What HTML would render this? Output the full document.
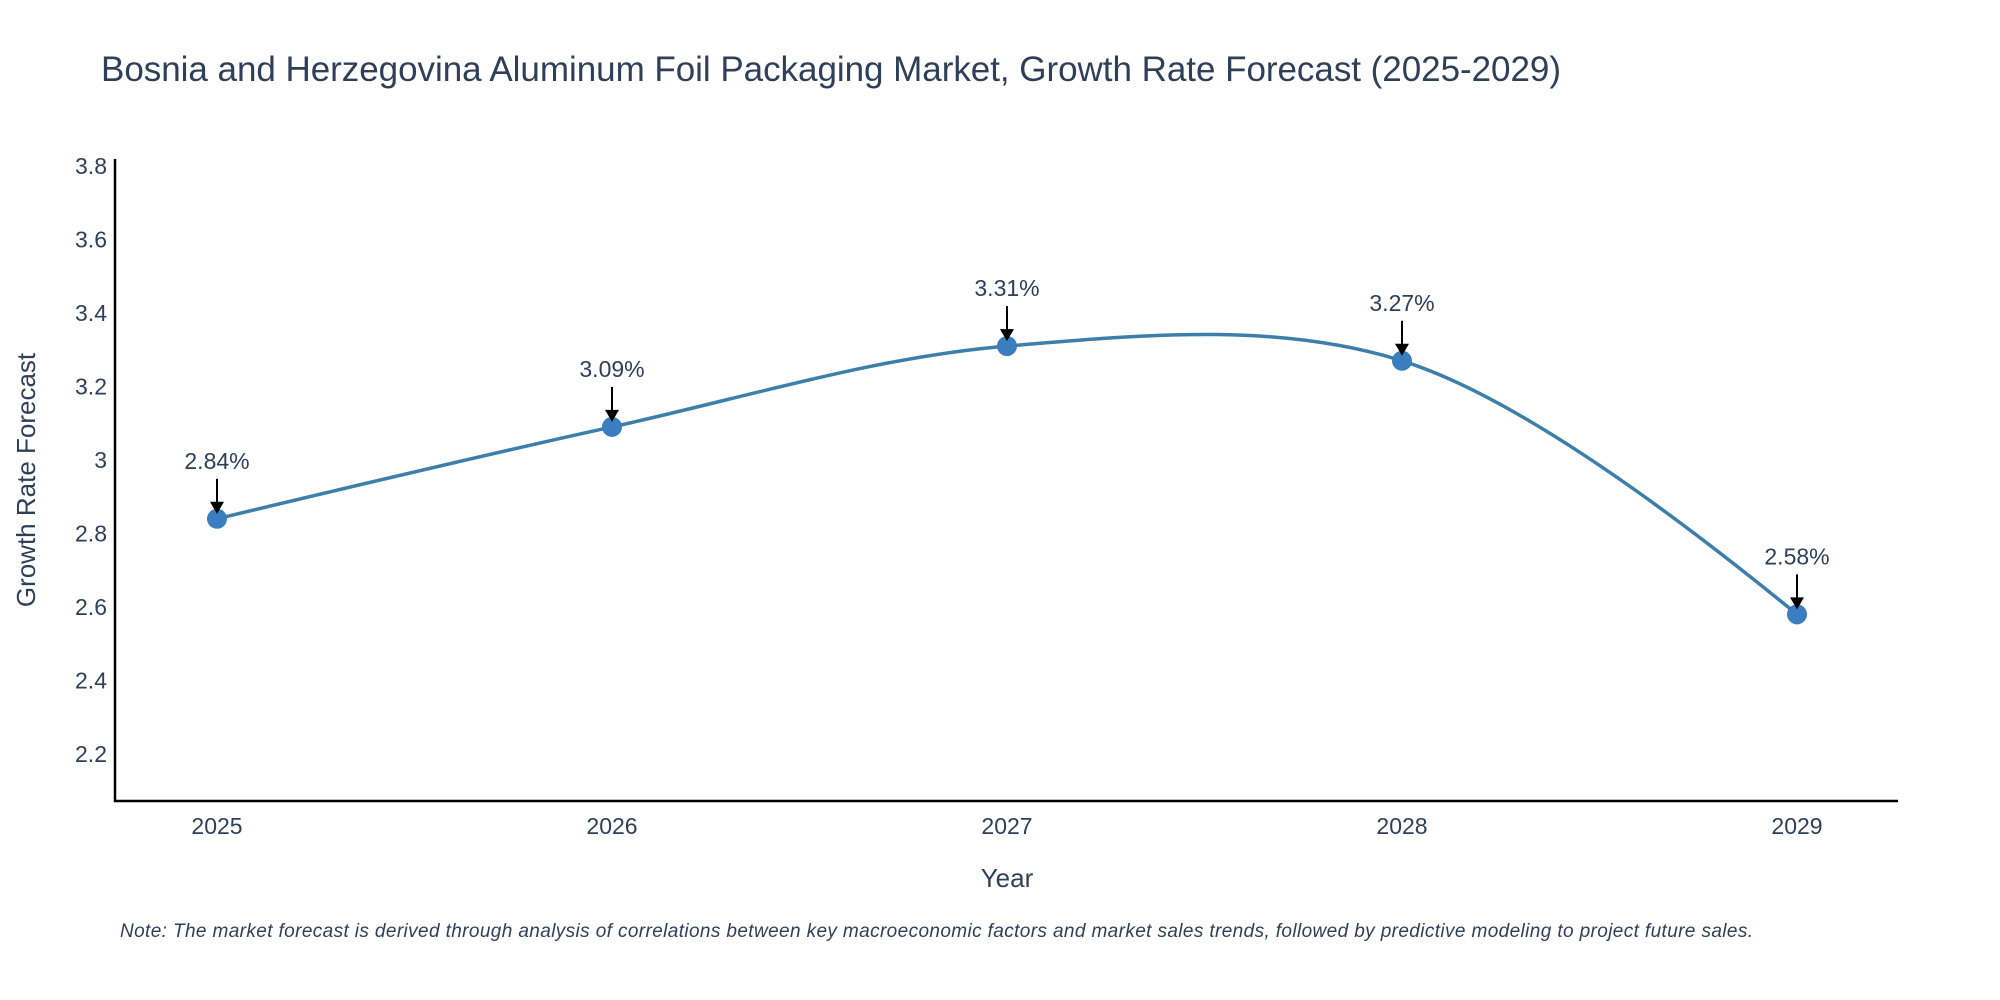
<!DOCTYPE html>
<html><head><meta charset="utf-8"><style>
html,body{margin:0;padding:0;background:#fff;width:2000px;height:1000px;overflow:hidden}
svg{font-family:"Liberation Sans",sans-serif}
</style></head><body>
<svg id="chart" width="2000" height="1000">
<text x="101" y="81" font-size="35" fill="#2f3f58" textLength="1460">Bosnia and Herzegovina Aluminum Foil Packaging Market, Growth Rate Forecast (2025-2029)</text>
<g id="yticks"></g>
<g id="xticks"></g>
<line x1="115" y1="159" x2="115" y2="802" stroke="#000" stroke-width="2.5"/>
<line x1="114" y1="801" x2="1898" y2="801" stroke="#000" stroke-width="2.5"/>
<text x="35" y="480" font-size="26" fill="#2f3f58" text-anchor="middle" transform="rotate(-90 35 480)">Growth Rate Forecast</text>
<text x="1007" y="887" font-size="26" fill="#2f3f58" text-anchor="middle">Year</text>
<path id="line" fill="none" stroke="#3d7eaa" stroke-width="3.5"/>
<g id="marks"></g>
<text x="120" y="937" font-size="19" font-style="italic" fill="#2f3f58" textLength="1633">Note: The market forecast is derived through analysis of correlations between key macroeconomic factors and market sales trends, followed by predictive modeling to project future sales.</text>
</svg>
<script>
const years = ["2025","2026","2027","2028","2029"];
const values = [2.84, 3.09, 3.31, 3.27, 2.58];
const yTicks = [2.2, 2.4, 2.6, 2.8, 3, 3.2, 3.4, 3.6, 3.8];
const NS = "http://www.w3.org/2000/svg";
function xs(i){return 217 + i*395;}
function ys(v){return 754 - (v-2.2)/0.2*73.5;}
function mk(tag, attrs, parent){const e=document.createElementNS(NS,tag);for(const k in attrs)e.setAttribute(k,attrs[k]);parent.appendChild(e);return e;}
const yg=document.getElementById('yticks'), xg=document.getElementById('xticks'), mg=document.getElementById('marks');
yTicks.forEach(t=>{
  const e=mk('text',{x:107,y:ys(t)+8,'font-size':23,fill:'#2f3f58','text-anchor':'end'},yg);
  
  
  e.textContent=String(t);
});
years.forEach((y,i)=>{
  const e=mk('text',{x:xs(i),y:834,'font-size':23,fill:'#2f3f58','text-anchor':'middle'},xg);
  
  
  e.textContent=y;
});
const pts=values.map((v,i)=>[xs(i),ys(v)]);
function tangent(p0,p1,p2,s){
  const d1x=p0[0]-p1[0],d1y=p0[1]-p1[1],d2x=p2[0]-p1[0],d2y=p2[1]-p1[1];
  const d1a=Math.pow(d1x*d1x+d1y*d1y,0.25),d2a=Math.pow(d2x*d2x+d2y*d2y,0.25);
  const nx=(d2a*d2a*d1x-d1a*d1a*d2x)*s,ny=(d2a*d2a*d1y-d1a*d1a*d2y)*s;
  const de1=3*d2a*(d1a+d2a),de2=3*d1a*(d1a+d2a);
  return [[p1[0]+nx/de1,p1[1]+ny/de1],[p1[0]-nx/de2,p1[1]-ny/de2]];
}
const tg=[];for(let i=1;i<pts.length-1;i++)tg.push(tangent(pts[i-1],pts[i],pts[i+1],1));
let d='M'+pts[0]+'Q'+tg[0][0]+' '+pts[1];
for(let i=1;i<pts.length-2;i++)d+='C'+tg[i-1][1]+' '+tg[i][0]+' '+pts[i+1];
d+='Q'+tg[tg.length-1][1]+' '+pts[pts.length-1];
document.getElementById('line').setAttribute('d',d);
values.forEach((v,i)=>{
  const x=xs(i),y=ys(v);
  const c=mk('circle',{cx:x,cy:y,r:10,fill:'#3a7ebf'},mg);
  
  
  const l=mk('line',{x1:x,y1:y-40,x2:x,y2:y-14,stroke:'#000','stroke-width':2},mg);
  
  
  const a=mk('path',{d:`M${x-7},${y-17}L${x+7},${y-17}L${x},${y-5}Z`,fill:'#000'},mg);
  
  
  const t=mk('text',{x:x,y:y-50,'font-size':23,fill:'#2f3f58','text-anchor':'middle'},mg);
  
  
  t.textContent=v.toFixed(2)+'%';
});
</script>
</body></html>
